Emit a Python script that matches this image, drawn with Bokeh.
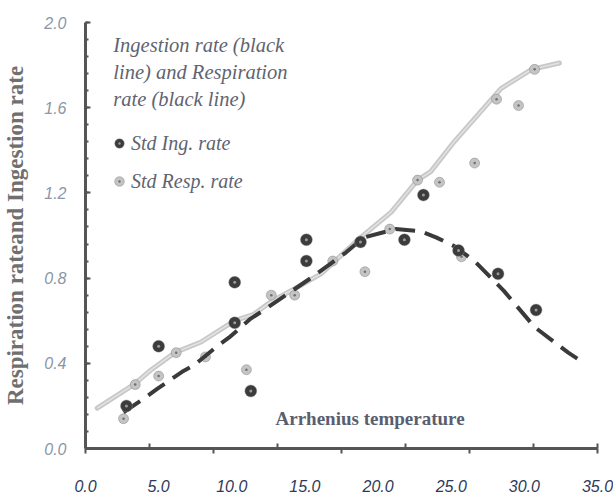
from bokeh.plotting import figure
from bokeh.models import (Range1d, LinearAxis, FixedTicker, SingleIntervalTicker,
                          Label, Legend, LegendItem, PrintfTickFormatter)
from bokeh.embed import file_html
from bokeh.resources import INLINE

# ---- data ----
resp_line_x = [0.8, 3.3, 4.5, 6.1, 7.9, 10.2, 11.5, 12.7, 14.3, 16.1, 18.8, 20.9, 22.7, 23.6, 25.2, 27.0, 28.4, 30.5, 32.4]
resp_line_y = [0.19, 0.30, 0.37, 0.45, 0.50, 0.60, 0.63, 0.69, 0.75, 0.82, 0.99, 1.11, 1.26, 1.30, 1.44, 1.58, 1.69, 1.78, 1.81]

ing_line_x = [2.6, 4.1, 4.9, 6.6, 7.4, 9.0, 9.8, 11.3, 12.2, 15.4, 17.8, 19.0, 21.2, 22.9, 24.0, 25.2, 26.6, 28.6, 30.7, 33.0, 34.1]
ing_line_y = [0.17, 0.24, 0.28, 0.36, 0.39, 0.48, 0.52, 0.61, 0.65, 0.80, 0.92, 0.99, 1.03, 1.02, 0.99, 0.95, 0.88, 0.74, 0.57, 0.45, 0.40]

ing_dot_x = [2.8, 5.0, 10.2, 10.2, 11.3, 15.1, 15.1, 18.8, 21.8, 23.1, 25.5, 28.2, 30.8]
ing_dot_y = [0.20, 0.48, 0.78, 0.59, 0.27, 0.98, 0.88, 0.97, 0.98, 1.19, 0.93, 0.82, 0.65]

resp_dot_x = [2.6, 3.4, 5.0, 6.2, 8.2, 11.0, 12.7, 14.3, 16.9, 19.1, 20.8, 22.7, 24.2, 25.7, 26.6, 28.1, 29.6, 30.7]
resp_dot_y = [0.14, 0.30, 0.34, 0.45, 0.43, 0.37, 0.72, 0.72, 0.88, 0.83, 1.03, 1.26, 1.25, 0.90, 1.34, 1.64, 1.61, 1.78]

x_label_ticks = [0, 5, 10, 15, 20, 25, 30, 35]
x_marks_up = [0, 4.375, 13.125, 21.875, 30.625, 35]
x_marks_down = [0, 8.75, 17.5, 26.25, 35]

title_lines = ["Ingestion rate (black", "line) and Respiration", "rate (black line)"]
y_title = "Respiration rateand Ingestion rate"
x_title = "Arrhenius temperature"

SERIF = "Liberation Serif"
SANS = "Liberation Sans"
AXIS_COL = "#555555"

p = figure(width=613, height=494, output_backend="svg", toolbar_location=None,
           x_range=Range1d(0, 35), y_range=Range1d(0, 2.0),
           x_axis_location=None, y_axis_location=None,
           min_border_left=85, min_border_right=16, min_border_top=22, min_border_bottom=44)
p.outline_line_color = None
p.xgrid.visible = False
p.ygrid.visible = False
p.background_fill_color = "white"

# y axis
yax = LinearAxis(ticker=SingleIntervalTicker(interval=0.4, num_minor_ticks=5),
                 formatter=PrintfTickFormatter(format="%.1f"))
yax.axis_line_color = AXIS_COL
yax.axis_line_width = 3
yax.major_tick_line_color = AXIS_COL
yax.major_tick_line_width = 2
yax.major_tick_in = 5
yax.major_tick_out = 0
yax.minor_tick_line_color = AXIS_COL
yax.minor_tick_line_width = 2
yax.minor_tick_in = 3
yax.minor_tick_out = 0
yax.major_label_text_font = SANS
yax.major_label_text_font_style = "italic"
yax.major_label_text_font_size = "16px"
yax.major_label_text_color = "#8a96a8"
yax.major_label_standoff = 19
yax.axis_label = y_title
yax.axis_label_text_font = SERIF
yax.axis_label_text_font_style = "bold"
yax.axis_label_text_font_size = "23px"
yax.axis_label_text_color = "#6f6f6f"
yax.axis_label_standoff = 13
p.add_layout(yax, "left")

# x axis: line + alternating tick marks (no labels)
xax1 = LinearAxis(ticker=FixedTicker(ticks=x_marks_up, minor_ticks=x_marks_down))
xax1.axis_line_color = AXIS_COL
xax1.axis_line_width = 3
xax1.major_tick_line_color = AXIS_COL
xax1.major_tick_line_width = 2
xax1.major_tick_in = 5
xax1.major_tick_out = 0
xax1.minor_tick_line_color = AXIS_COL
xax1.minor_tick_line_width = 2
xax1.minor_tick_in = 0
xax1.minor_tick_out = 5
xax1.major_label_overrides = {t: "" for t in x_marks_up}
xax1.major_label_standoff = 0
p.add_layout(xax1, "below")

# x axis labels
xax2 = LinearAxis(ticker=FixedTicker(ticks=x_label_ticks),
                  formatter=PrintfTickFormatter(format="%.1f"))
xax2.axis_line_color = None
xax2.major_tick_line_color = None
xax2.minor_tick_line_color = None
xax2.major_label_text_font = SANS
xax2.major_label_text_font_style = "italic"
xax2.major_label_text_font_size = "16px"
xax2.major_label_text_color = "#2e3a5c"
xax2.major_label_standoff = 20
p.add_layout(xax2, "below")

# series
p.line(resp_line_x, resp_line_y, line_color="#c8c8c8", line_width=5, line_join="round", line_cap="round")
p.line(resp_line_x, resp_line_y, line_color="#e2e2e2", line_width=1.5, line_join="round")
r_resp = p.scatter(resp_dot_x, resp_dot_y, marker="circle_dot", size=10,
                   fill_color="#c4c4c4", line_color="#707070", line_width=0.4)
p.line(ing_line_x, ing_line_y, line_color="#3a3a3a", line_width=4, line_dash="20 10")
r_ing = p.scatter(ing_dot_x, ing_dot_y, marker="circle_dot", size=12,
                  fill_color="#3c3c3c", line_color="#9a9a9a", line_width=0.4)

# title lines (legend heading)
for i, t in enumerate(title_lines):
    p.add_layout(Label(x=1.9, y=1.895 - 0.127 * i, text=t, text_font=SERIF,
                       text_font_style="italic", text_font_size="20.5px",
                       text_color="#5f6470", text_baseline="middle", text_align="left"))

p.add_layout(Label(x=19.45, y=0.14, text=x_title, text_font=SERIF,
                   text_font_style="bold", text_font_size="19px",
                   text_color="#5a5e6e", text_baseline="middle", text_align="center"))

legend = Legend(items=[LegendItem(label="Std Ing. rate", renderers=[r_ing]),
                       LegendItem(label="Std Resp. rate", renderers=[r_resp])],
                location=(22, 255), orientation="vertical")
legend.background_fill_alpha = 0
legend.border_line_color = None
legend.padding = 0
legend.margin = 0
legend.spacing = 14
legend.glyph_width = 24
legend.glyph_height = 24
legend.label_standoff = 0
legend.label_text_font = SERIF
legend.label_text_font_style = "italic"
legend.label_text_font_size = "20px"
legend.label_text_color = "#5f6470"
p.add_layout(legend, "center")

open("out.html", "w").write(file_html(p, INLINE))
